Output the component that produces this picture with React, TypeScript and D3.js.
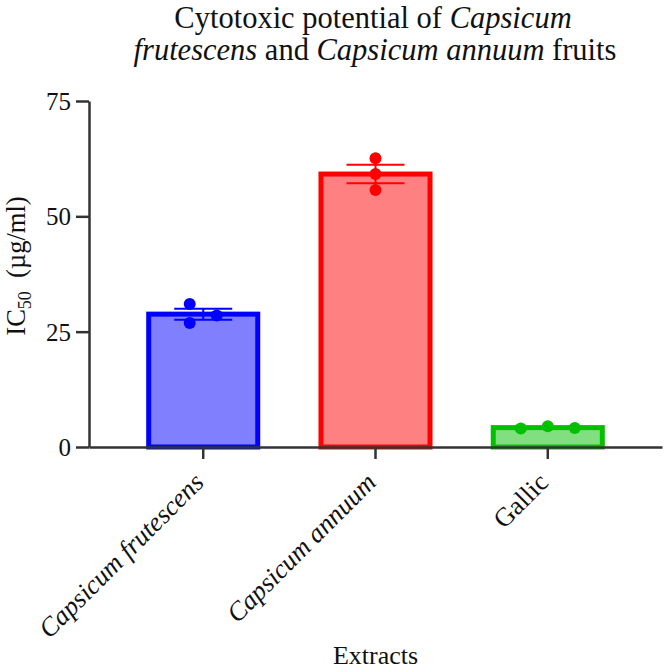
import React, { useEffect, useRef } from 'react';
import * as d3 from 'd3';

const extracts = ['Capsicum frutescens', 'Capsicum annuum', 'Gallic'];
const italicLabels = [true, true, false];
const frutescensValues = [31.0, 26.9, 28.5];
const annuumValues = [62.6, 59.2, 55.7];
const gallicValues = [4.0, 4.5, 4.1];
const replicates = [frutescensValues, annuumValues, gallicValues];
const strokeColors = ['#0000ff', '#ff0000', '#00c000'];
const fillColors = ['#8080ff', '#ff8080', '#80e080'];
const yTicks = [0, 25, 50, 75];

const W = 665;
const H = 672;
const FONT = '"Liberation Serif", "Times New Roman", Times, serif';

function sem(vals: number[]) {
  const sd = d3.deviation(vals) || 0;
  return sd / Math.sqrt(vals.length);
}

// greedy column layout so overlapping dots sit side by side
function spreadDots(vals: number[], y: d3.ScaleLinear<number, number>, r: number, gap: number) {
  const cols: number[][] = [];
  const colOf: number[] = [];
  vals.forEach((v, i) => {
    let c = 0;
    while (cols[c] && cols[c].some(j => Math.abs(y(vals[j]) - y(v)) < 2 * r)) c++;
    if (!cols[c]) cols[c] = [];
    cols[c].push(i);
    colOf[i] = c;
  });
  const n = cols.length;
  return colOf.map(c => (c - (n - 1) / 2) * gap);
}

export default function App() {
  const ref = useRef<SVGSVGElement>(null);

  useEffect(() => {
    const svg = d3.select(ref.current);
    svg.selectAll('*').remove();

    const left = 89, right = 662, top = 101, bottom = 447;

    const x = d3.scaleBand<string>()
      .domain(extracts)
      .range([left, right])
      .paddingInner(0.338)
      .paddingOuter(0.332);

    const y = d3.scaleLinear().domain([0, 75]).range([bottom, top]);

    const bw = x.bandwidth();
    const sw = 5;
    const r = 6;

    // bars
    extracts.forEach((name, i) => {
      const mean = d3.mean(replicates[i]) as number;
      const x0 = x(name) as number;
      svg.append('rect')
        .attr('x', x0 + sw / 2)
        .attr('y', y(mean))
        .attr('width', bw - sw)
        .attr('height', bottom - y(mean))
        .attr('fill', fillColors[i])
        .attr('stroke', strokeColors[i])
        .attr('stroke-width', sw);
    });

    // error bars (mean ± SEM)
    extracts.forEach((name, i) => {
      const mean = d3.mean(replicates[i]) as number;
      const e = sem(replicates[i]);
      const cx = (x(name) as number) + bw / 2;
      const g = svg.append('g')
        .attr('stroke', strokeColors[i])
        .attr('stroke-width', 2);
      g.append('line').attr('x1', cx).attr('x2', cx).attr('y1', y(mean + e)).attr('y2', y(mean - e));
      g.append('line').attr('x1', cx - 29).attr('x2', cx + 29).attr('y1', y(mean + e)).attr('y2', y(mean + e));
      g.append('line').attr('x1', cx - 29).attr('x2', cx + 29).attr('y1', y(mean - e)).attr('y2', y(mean - e));
    });

    // replicate dots
    extracts.forEach((name, i) => {
      const cx = (x(name) as number) + bw / 2;
      const offs = spreadDots(replicates[i], y, r, 27);
      svg.append('g')
        .selectAll('circle')
        .data(replicates[i])
        .join('circle')
        .attr('cx', (d, j) => cx + offs[j])
        .attr('cy', d => y(d))
        .attr('r', r)
        .attr('fill', strokeColors[i]);
    });

    // axes
    const yAxis = d3.axisLeft(y).tickValues(yTicks).tickSize(13).tickSizeOuter(0).tickPadding(5);
    const gy = svg.append('g').attr('transform', `translate(${left},0)`).call(yAxis);
    gy.select('.domain').attr('stroke', '#333').attr('stroke-width', 2.5);
    gy.selectAll('.tick line').attr('stroke', '#333').attr('stroke-width', 2.5);
    gy.selectAll('.tick text')
      .attr('fill', '#111')
      .style('font-family', FONT)
      .style('font-size', '25px')
      .attr('dy', '0.34em');

    const xAxis = d3.axisBottom(x).tickSize(12).tickSizeOuter(0).tickFormat(() => '');
    const gx = svg.append('g').attr('transform', `translate(0,${bottom})`).call(xAxis);
    gx.select('.domain').attr('stroke', '#333').attr('stroke-width', 2.5);
    gx.selectAll('.tick line').attr('stroke', '#333').attr('stroke-width', 2.5);

    extracts.forEach((name, i) => {
      const cx = (x(name) as number) + bw / 2;
      svg.append('text')
        .attr('transform', `translate(${cx + 2},${bottom + 37}) rotate(-45)`)
        .attr('text-anchor', 'end')
        .style('font-family', FONT)
        .style('font-size', '26.5px')
        .style('font-style', italicLabels[i] ? 'italic' : 'normal')
        .attr('fill', '#111')
        .text(name);
    });

    // axis titles
    svg.append('text')
      .attr('x', (left + right) / 2)
      .attr('y', 664)
      .attr('text-anchor', 'middle')
      .style('font-family', FONT)
      .style('font-size', '26px')
      .attr('fill', '#111')
      .text('Extracts');

    const yl = svg.append('text')
      .attr('transform', `translate(25,266) rotate(-90)`)
      .attr('text-anchor', 'middle')
      .style('font-family', FONT)
      .style('font-size', '26.5px')
      .attr('fill', '#111');
    yl.append('tspan').text('IC');
    yl.append('tspan').attr('dy', 6).style('font-size', '18px').text('50');
    yl.append('tspan').attr('dy', -6).text('\u00a0 (\u00b5g/ml)');

    // title
    const t1 = svg.append('text')
      .attr('x', 373).attr('y', 28)
      .attr('text-anchor', 'middle')
      .style('font-family', FONT)
      .style('font-size', '30.5px')
      .attr('fill', '#111');
    t1.append('tspan').text('Cytotoxic potential of ');
    t1.append('tspan').style('font-style', 'italic').text('Capsicum');

    const t2 = svg.append('text')
      .attr('x', 375).attr('y', 60)
      .attr('text-anchor', 'middle')
      .style('font-family', FONT)
      .style('font-size', '30.5px')
      .attr('fill', '#111');
    t2.append('tspan').style('font-style', 'italic').text('frutescens');
    t2.append('tspan').text(' and ');
    t2.append('tspan').style('font-style', 'italic').text('Capsicum annuum');
    t2.append('tspan').text(' fruits');
  }, []);

  return (
    <div style={{ position: 'absolute', left: 0, top: 0 }}>
      <svg ref={ref} width={W} height={H} style={{ display: 'block', background: '#fff' }} />
    </div>
  );
}
